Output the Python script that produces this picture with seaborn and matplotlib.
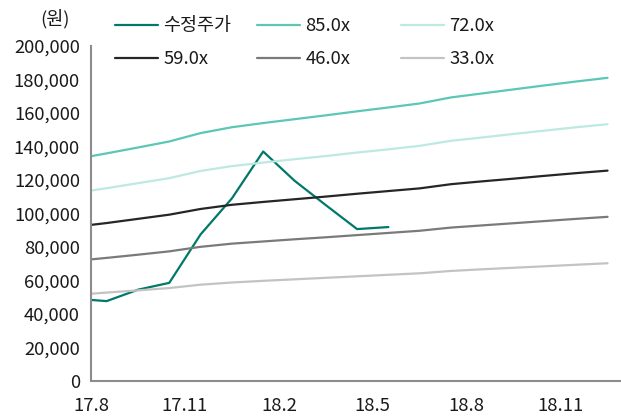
import numpy as np
import pandas as pd
import matplotlib
matplotlib.use("Agg")
import matplotlib.pyplot as plt
from matplotlib.lines import Line2D
import seaborn as sns

# month offsets from 2017-08
months = [0, 0.5, 1.5, 2.5, 3.5, 4.5, 5.5, 6.5, 7.5, 8.5, 9.5, 10.5, 11.5, 12.5, 13.5, 14.5, 15.5, 16.5]
price = [48400, 47700, 54500, 58600, 87500, 109000, 137000, 119600, 105000, 90700, 91900]
band_85 = [134200, 135900, 139400, 143000, 148000, 151500, 154000, 156300, 158600, 161000, 163300,
           165700, 169300, 171700, 174100, 176500, 178800, 181000]
band_72 = [113700, 115100, 118100, 121100, 125400, 128300, 130400, 132400, 134300, 136400, 138300,
           140400, 143400, 145400, 147500, 149500, 151500, 153300]
band_59 = [93200, 94300, 96800, 99300, 102700, 105200, 106900, 108500, 110100, 111800, 113400,
           115000, 117500, 119200, 120800, 122500, 124100, 125600]
band_46 = [72600, 73500, 75400, 77400, 80100, 82000, 83300, 84600, 85800, 87100, 88400,
           89700, 91600, 92900, 94200, 95500, 96800, 98000]
band_33 = [52100, 52800, 54100, 55500, 57500, 58800, 59800, 60700, 61600, 62500, 63400,
           64300, 65700, 66700, 67600, 68500, 69400, 70300]
series_names = ["수정주가", "85.0x", "72.0x", "59.0x", "46.0x", "33.0x"]
colors = ["#00786A", "#5CC7B7", "#BDE9E1", "#262626", "#7A7A7A", "#C3C3C3"]
tick_pos = [0, 3, 6, 9, 12, 15]
tick_labels = ["17.8", "17.11", "18.2", "18.5", "18.8", "18.11"]

rows = []
for m, v in zip(months, price):
    rows.append(("수정주가", m, v))
for name, vals in zip(series_names[1:], [band_85, band_72, band_59, band_46, band_33]):
    for m, v in zip(months, vals):
        rows.append((name, m, v))
df = pd.DataFrame(rows, columns=["series", "month", "value"])

sns.set_style("white")
plt.rcParams["font.family"] = ["Noto Sans CJK KR", "DejaVu Sans"]

FS = 13.3
TXT = "#1A1A1A"

fig = plt.figure(figsize=(6.21, 4.18), dpi=100)
ax = fig.add_axes([91 / 621, 37 / 418, 1 - 91 / 621, 335 / 418])

sns.lineplot(data=df, x="month", y="value", hue="series", hue_order=series_names,
             palette=dict(zip(series_names, colors)), linewidth=1.6, ax=ax, legend=False,
             estimator=None, sort=False)

ax.set_xlim(0, 16.93)
ax.set_ylim(0, 200000)
yt = np.arange(0, 200001, 20000)
ax.set_yticks(yt)
ax.set_yticklabels([f"{int(v):,}" for v in yt])
ax.set_xticks(tick_pos)
ax.set_xticklabels(tick_labels)
ax.set_xlabel("")
ax.set_ylabel("")

for s in ["top", "right"]:
    ax.spines[s].set_visible(False)
for s in ["left", "bottom"]:
    ax.spines[s].set_color("#8C8C8C")
    ax.spines[s].set_linewidth(1.5)
ax.tick_params(axis="both", which="major", direction="out", length=4, width=1.2,
               color="#8C8C8C", labelsize=FS, labelcolor=TXT)
ax.tick_params(axis="y", pad=4)
ax.tick_params(axis="x", pad=7.5)
ax.grid(False)

# legend: three single-column legends placed at fixed positions
col_x = [108, 250, 394]
for ci in range(3):
    idx = [ci, ci + 3]
    hs = [Line2D([0], [0], color=colors[i], lw=1.6) for i in idx]
    leg = fig.legend(hs, [series_names[i] for i in idx], ncol=1, loc="upper left",
                     bbox_to_anchor=(col_x[ci] / 621, 1 - 10 / 418), frameon=False,
                     fontsize=FS, handlelength=2.3, handletextpad=0.3, labelspacing=0.8,
                     borderaxespad=0)
    for t in leg.get_texts():
        t.set_color(TXT)

fig.text(40 / 621, 1 - 19 / 418, "(원)", fontsize=FS, color=TXT, va="center", ha="left")

fig.savefig("out.png", dpi=100)
